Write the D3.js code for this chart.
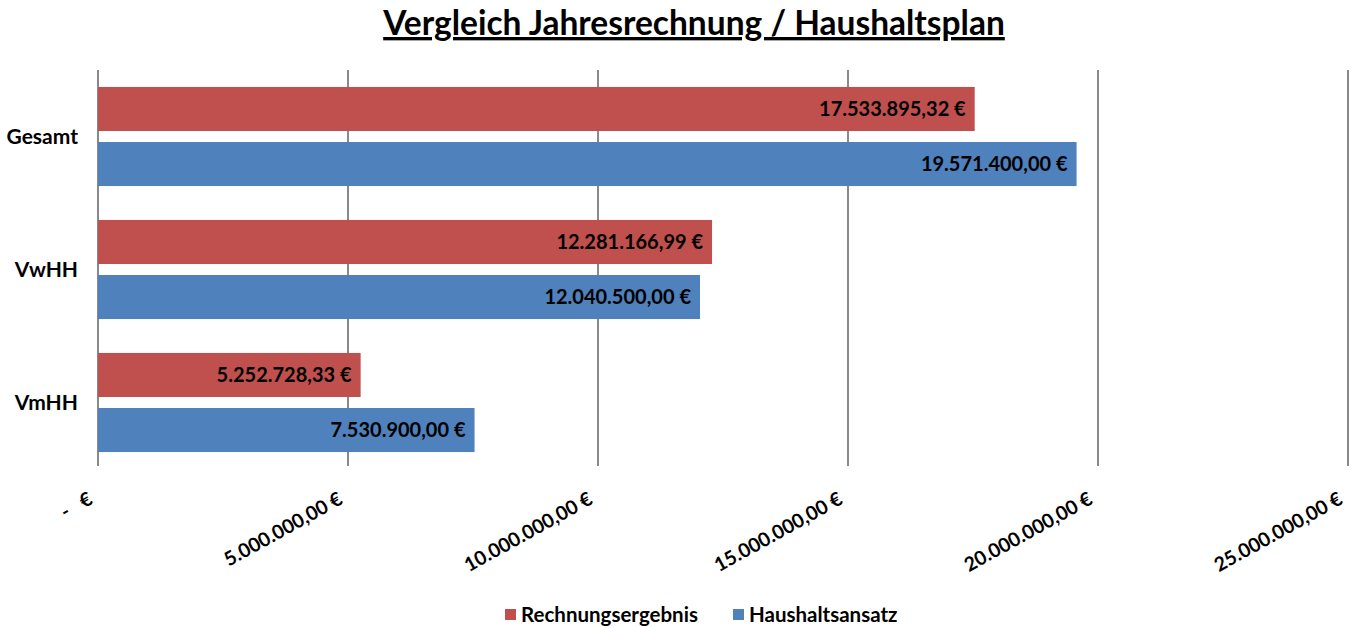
<!DOCTYPE html>
<html>
<head>
<meta charset="utf-8">
<script src="https://cdn.jsdelivr.net/npm/d3@7"></script>
<style>
  body { margin: 0; background: #fff; }
  text { font-family: Lato, "Open Sans", "Noto Sans", sans-serif; font-weight: bold; fill: #000; white-space: pre; }
</style>
</head>
<body>
<svg id="chart" width="1360" height="627"></svg>
<script>
// Data
const categories = ['Gesamt', 'VwHH', 'VmHH']
const seriesNames = ['Rechnungsergebnis', 'Haushaltsansatz']
const rechnungsergebnis = [17533895.32, 12281166.99, 5252728.33]
const haushaltsansatz = [19571400.00, 12040500.00, 7530900.00]
const xTicks = [0, 5000000, 10000000, 15000000, 20000000, 25000000]
const colors = ['#C0504D', '#4F81BD']

const svg = d3.select('#chart')

// Helper: German currency formatting like Excel accounting format
const fmt = (v) => {
  const parts = v.toFixed(2).split('.')
  const int = parts[0].replace(/\B(?=(\d{3})+(?!\d))/g, '.')
  return int + ',' + parts[1] + ' €'
}

const rows = categories.map((c, i) => ({
  cat: c,
  values: [rechnungsergebnis[i], haushaltsansatz[i]]
}))

// Scales
const xScale = d3.scaleLinear().domain([0, 25000000]).range([98, 1348])
const yScale = d3.scaleBand().domain(categories).range([70, 469])
  .paddingInner(0.255).paddingOuter(0.1275)
const subScale = d3.scaleBand().domain(seriesNames).range([0, yScale.bandwidth()])
  .paddingInner(0.2)

// Title
svg.append('text')
  .attr('x', 694).attr('y', 35)
  .attr('text-anchor', 'middle')
  .style('font-size', '33.5px')
  .style('text-decoration', 'underline')
  .text('Vergleich Jahresrechnung / Haushaltsplan')

// Gridlines
svg.append('g').attr('class', 'grid')
  .selectAll('line')
  .data(xTicks)
  .enter()
  .append('line')
  .attr('x1', (d) => xScale(d)).attr('x2', (d) => xScale(d))
  .attr('y1', 70).attr('y2', 466)
  .attr('stroke', '#898989').attr('stroke-width', 2)

// Bars
const groups = svg.append('g').attr('class', 'data')
  .selectAll('g')
  .data(rows)
  .enter()
  .append('g')
  .attr('transform', (d) => 'translate(0,' + yScale(d.cat) + ')')

groups.selectAll('rect')
  .data((d) => d.values.map((v, j) => ({ v: v, s: seriesNames[j], j: j })))
  .enter()
  .append('rect')
  .attr('x', xScale(0))
  .attr('y', (d) => subScale(d.s))
  .attr('width', (d) => xScale(d.v) - xScale(0))
  .attr('height', subScale.bandwidth())
  .attr('fill', (d) => colors[d.j])

// Data labels, inside end
groups.selectAll('text')
  .data((d) => d.values.map((v, j) => ({ v: v, s: seriesNames[j] })))
  .enter()
  .append('text')
  .attr('x', (d) => xScale(d.v) - 9)
  .attr('y', (d) => subScale(d.s) + subScale.bandwidth() / 2)
  .attr('dy', '0.35em')
  .attr('text-anchor', 'end')
  .style('font-size', '20px')
  .text((d) => fmt(d.v))

// Category labels
svg.append('g').attr('class', 'y axis')
  .selectAll('text')
  .data(categories)
  .enter()
  .append('text')
  .attr('x', 78)
  .attr('y', (d) => yScale(d) + yScale.bandwidth() / 2)
  .attr('dy', '0.35em')
  .attr('text-anchor', 'end')
  .style('font-size', '21px')
  .text((d) => d)

// X tick labels, rotated
svg.append('g').attr('class', 'x axis')
  .selectAll('text')
  .data(xTicks)
  .enter()
  .append('text')
  .attr('text-anchor', 'end')
  .attr('transform', (d) => 'translate(' + (xScale(d) - 4) + ',503) rotate(-29)')
  .style('font-size', '19.5px')
  .text((d) => d === 0 ? '-   €' : fmt(d))

// Legend
const legend = svg.append('g').attr('class', 'legend')
const legendX = [505, 733]
seriesNames.forEach((name, j) => {
  legend.append('rect')
    .attr('x', legendX[j]).attr('y', 609)
    .attr('width', 11).attr('height', 11)
    .attr('fill', colors[j])
  legend.append('text')
    .attr('x', legendX[j] + 16).attr('y', 615)
    .attr('dy', '0.35em')
    .style('font-size', '20.5px')
    .text(name)
})
</script>
</body>
</html>
